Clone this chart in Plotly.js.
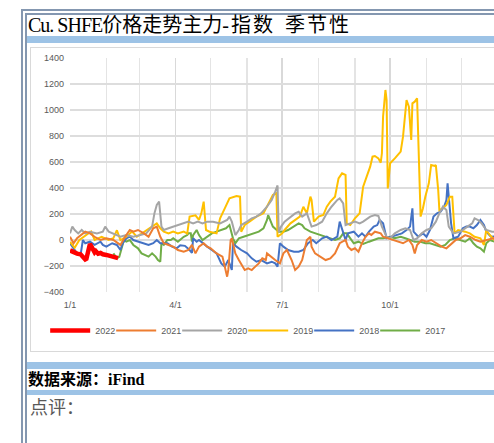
<!DOCTYPE html>
<html><head><meta charset="utf-8">
<script src="https://cdn.plot.ly/plotly-3.0.1.min.js"></script>
<style>
html,body{margin:0;padding:0;background:#fff;width:494px;height:443px;overflow:hidden;}
#page{position:relative;width:494px;height:443px;overflow:hidden;}
.fl{position:absolute;background:#8497B0;}
.band{position:absolute;left:27px;width:480px;background:#9DC3E6;}
#title{position:absolute;left:28px;top:14px;height:22px;line-height:22px;font-family:"Liberation Serif","Noto Sans CJK SC",serif;font-size:20px;color:#000;white-space:nowrap;}
#title span{display:inline-block;}
#chartbox{position:absolute;left:30px;top:47px;width:520px;height:305px;border:1px solid #D9D9D9;box-sizing:border-box;background:#fff;}
#chart{position:absolute;left:30px;top:47px;width:490px;height:315px;}
#src{position:absolute;left:28px;top:371px;height:18px;line-height:18px;font-family:"Liberation Serif","Noto Sans CJK SC",serif;font-weight:bold;font-size:16px;color:#000;white-space:nowrap;}
#cmt{position:absolute;left:30px;top:398px;height:20px;line-height:20px;font-family:"Liberation Serif","Noto Sans CJK SC",serif;font-size:18px;color:#595959;white-space:nowrap;}
</style></head>
<body>
<div id="page">
  <div class="fl" style="left:21px;top:9px;width:480px;height:2px;"></div>
  <div class="fl" style="left:25px;top:13px;width:480px;height:2px;"></div>
  <div class="fl" style="left:21px;top:9px;width:2px;height:440px;"></div>
  <div class="fl" style="left:25px;top:13px;width:2px;height:440px;"></div>
  <div id="title"><span style="letter-spacing:-1px;">Cu. SHFE</span><span>价格走势主力</span><span style="margin-right:2px;">-</span><span style="letter-spacing:2px;">指数</span><span style="margin-left:10px;letter-spacing:2px;">季节性</span></div>
  <div class="band" style="top:36px;height:7px;"></div>
  <div id="chartbox"></div>
  <div id="chart"></div>
  <div class="band" style="top:362px;height:7px;"></div>
  <div id="src">数据来源：iFind</div>
  <div class="band" style="top:390px;height:5px;"></div>
  <div id="cmt">点评：</div>
</div>
<script>
// x = day of year (0 = 1/1), y = value
const tickDays = [0, 90, 181, 273];
const tickLabels = ['1/1', '4/1', '7/1', '10/1'];
const monthDays = [31, 59, 120, 151, 212, 243, 304, 334];
const seriesNames = ['2022', '2021', '2020', '2019', '2018', '2017'];
const seriesColors = ['#FF0000', '#ED7D31', '#A5A5A5', '#FFC000', '#4472C4', '#70AD47'];

const s2022 = [[0,-80],[3,-95],[6,-105],[9,-110],[11,-135],[13,-150],[14,-145],[15,-90],[16,-50],[17,-30],[18,-45],[20,-70],[21,-95],[22,-85],[24,-105],[26,-100],[28,-110],[31,-115],[34,-125],[37,-130],[39,-135],[41,-140]];

const s2021 = [[0,25],[3,-25],[6,13],[9,38],[13,64],[17,51],[21,25],[26,0],[31,13],[37,0],[43,-38],[47,25],[51,77],[54,64],[58,77],[63,51],[67,25],[71,90],[74,103],[77,25],[80,-25],[84,-38],[88,-51],[92,-77],[97,-90],[101,-77],[104,-38],[107,-103],[110,-51],[114,-25],[117,-51],[120,-64],[122,-77],[125,-103],[130,-128],[132,-205],[134,-282],[135,-230],[137,0],[138,13],[141,-103],[144,-154],[147,-205],[149,-231],[152,-218],[155,-231],[158,-205],[161,-180],[164,-141],[167,-154],[168,-103],[171,-128],[175,-154],[179,-180],[182,-103],[185,-77],[189,-154],[192,-231],[195,-205],[198,-154],[202,0],[205,25],[206,-51],[209,-103],[213,-128],[218,-154],[222,-141],[226,-103],[230,-25],[235,0],[237,-51],[240,-77],[243,-64],[246,-90],[249,-25],[252,25],[255,51],[257,38],[260,64],[265,51],[267,25],[271,13],[276,0],[280,-13],[284,-25],[289,0],[292,-38],[294,-103],[296,-38],[300,0],[304,-13],[308,0],[312,-25],[317,-51],[321,-64],[326,-25],[329,0],[333,13],[337,38],[341,25],[346,0],[350,-13],[356,0],[361,13],[365,10]];

const s2020 = [[0,51],[2,103],[4,77],[7,51],[10,77],[13,51],[17,64],[23,51],[28,64],[30,103],[33,64],[37,51],[43,26],[48,38],[54,26],[60,38],[65,51],[70,103],[72,205],[74,270],[76,295],[78,103],[80,77],[84,90],[88,103],[92,115],[97,128],[101,141],[105,128],[109,141],[113,128],[117,141],[122,141],[128,128],[134,154],[136,180],[138,141],[141,38],[144,77],[146,115],[151,141],[155,167],[159,180],[163,205],[168,256],[172,308],[175,372],[177,420],[178,60],[180,103],[183,141],[188,180],[192,205],[195,218],[198,180],[202,205],[206,103],[210,115],[215,141],[219,205],[223,256],[228,308],[230,320],[233,282],[235,115],[239,128],[243,141],[247,128],[250,141],[256,180],[260,192],[263,185],[266,103],[270,25],[273,13],[277,51],[282,77],[286,90],[290,77],[293,0],[296,13],[300,51],[304,77],[308,90],[312,141],[315,205],[318,256],[321,230],[323,103],[327,51],[333,64],[339,103],[343,128],[345,167],[348,154],[351,128],[355,77],[360,64],[365,60]];

const s2019 = [[0,-15],[4,-60],[8,0],[14,40],[18,65],[21,0],[27,25],[33,0],[37,15],[40,75],[43,0],[48,25],[53,65],[57,25],[61,50],[65,75],[70,100],[74,128],[77,90],[80,65],[84,50],[88,65],[92,50],[97,65],[100,50],[102,180],[107,190],[110,155],[112,205],[114,295],[116,77],[119,64],[125,51],[128,167],[132,243],[136,320],[142,338],[145,333],[146,64],[149,115],[153,141],[159,180],[165,205],[169,270],[173,346],[176,360],[177,25],[181,51],[183,77],[188,128],[192,154],[196,180],[199,256],[202,205],[205,333],[206,308],[208,141],[212,180],[216,192],[219,256],[222,295],[226,333],[229,474],[232,513],[235,500],[236,128],[239,115],[243,167],[247,205],[250,410],[253,487],[256,564],[258,641],[260,646],[263,628],[265,595],[266,667],[267,950],[269,1154],[270,1077],[271,397],[273,590],[277,628],[282,680],[284,795],[286,987],[287,1077],[289,1026],[290,897],[291,770],[292,1051],[294,1064],[296,1090],[298,500],[299,180],[301,244],[303,333],[306,436],[308,577],[311,570],[312,577],[314,385],[315,230],[318,244],[321,270],[324,333],[326,333],[328,51],[331,77],[337,64],[341,51],[345,25],[350,13],[353,-38],[355,77],[358,38],[362,0],[365,5]];

const s2018 = [[0,-25],[3,-64],[6,-103],[9,-115],[11,0],[13,-25],[17,-13],[21,-38],[26,-13],[28,-38],[31,-51],[36,-25],[40,-38],[43,-77],[45,-25],[48,13],[51,26],[54,0],[58,-13],[63,-25],[67,-38],[71,-25],[74,0],[77,-25],[83,-25],[87,-51],[91,-64],[94,-40],[98,-45],[102,-77],[104,-100],[105,13],[108,-13],[110,0],[113,-25],[117,-51],[121,-77],[125,-103],[129,-180],[132,-205],[135,-154],[138,-231],[139,-25],[142,-51],[146,-77],[151,-103],[155,-141],[159,-167],[163,-154],[168,-180],[172,-167],[175,-180],[177,-205],[179,-25],[182,-51],[186,-77],[191,-90],[195,-90],[199,-77],[203,-25],[207,0],[210,-25],[215,13],[219,26],[223,0],[228,26],[230,141],[232,77],[235,0],[237,51],[242,64],[246,26],[249,51],[252,26],[255,64],[259,103],[262,115],[264,154],[267,128],[270,13],[274,26],[279,38],[283,51],[287,77],[290,103],[292,244],[293,64],[297,26],[301,51],[304,25],[307,77],[310,180],[313,205],[316,218],[319,256],[321,308],[322,436],[323,333],[325,128],[327,13],[331,26],[335,90],[338,103],[341,103],[344,90],[347,115],[350,154],[353,115],[355,64],[359,25],[362,25],[365,30]];

const s2017 = [[37,-103],[40,-141],[42,-130],[44,-60],[46,0],[48,-13],[51,0],[54,-38],[58,-64],[61,-103],[64,-115],[67,-128],[70,-103],[73,-128],[75,-154],[77,-167],[78,-25],[80,-38],[83,0],[86,0],[88,13],[92,-13],[97,25],[100,38],[101,51],[103,51],[104,-13],[105,38],[108,77],[110,38],[113,0],[117,25],[121,51],[125,64],[129,77],[133,90],[136,115],[139,13],[141,-25],[144,13],[148,25],[152,38],[156,51],[161,64],[165,90],[168,154],[169,192],[171,141],[173,103],[178,64],[182,64],[186,77],[191,103],[195,128],[198,115],[200,90],[205,64],[209,51],[213,38],[218,25],[222,13],[226,0],[230,13],[233,51],[236,51],[239,13],[242,-25],[246,-13],[250,-31],[255,-13],[259,0],[263,13],[267,13],[273,25],[277,13],[282,25],[286,13],[290,0],[294,-13],[299,-13],[303,-25],[307,-25],[311,-38],[316,-51],[320,-38],[324,0],[328,13],[333,0],[337,-13],[341,13],[344,-25],[347,-51],[350,-64],[353,-90],[355,-25],[358,0],[362,-13],[365,-10]];

const allSeries = [s2022, s2021, s2020, s2019, s2018, s2017];
const widths = [4.5, 2, 2, 2, 2, 2];

// draw older years first so 2022 is on top, legend keeps 2022 first
const traces = allSeries.map((s, i) => ({
  type: 'scatter', mode: 'lines', name: seriesNames[i],
  x: s.map(p => p[0]), y: s.map(p => p[1]),
  line: {color: seriesColors[i], width: widths[i]},
  legendrank: i + 1
})).reverse();
// blank trailing legend slot so the last label is not clipped
traces.push({type: 'scatter', mode: 'lines', name: ' ', x: [null], y: [null],
  line: {color: 'rgba(0,0,0,0)', width: 0}, legendrank: 99, hoverinfo: 'skip'});

const tf = {family: 'Liberation Sans, Arial, sans-serif', size: 9, color: '#595959'};
const layout = {
  width: 490, height: 315,
  margin: {l: 40, r: 22, t: 11, b: 70},
  paper_bgcolor: 'rgba(0,0,0,0)', plot_bgcolor: '#fff',
  showlegend: true,
  xaxis: {
    range: [0, 365], tickmode: 'array', tickvals: tickDays, ticktext: tickLabels,
    showgrid: true, gridcolor: '#D9D9D9', gridwidth: 1.6, zeroline: false, showline: false,
    ticks: '', tickfont: tf, ticklabelstandoff: 6,
    minor: {tickmode: 'array', tickvals: monthDays, showgrid: true, gridcolor: '#E4E4E4', gridwidth: 1.3, ticks: ''}
  },
  yaxis: {
    range: [-400, 1400], tick0: 0, dtick: 200, showgrid: true, gridcolor: '#DDDDDD', gridwidth: 1.3,
    zeroline: false, showline: false, ticks: '', tickfont: tf, ticklabelstandoff: 5
  },
  legend: {
    orientation: 'h', x: -0.058, y: -0.165, xanchor: 'left', yanchor: 'middle',
    font: tf, bgcolor: 'rgba(0,0,0,0)', traceorder: 'normal',
    itemwidth: 40, entrywidth: 11, entrywidthmode: 'pixels'
  }
};
Plotly.newPlot('chart', traces, layout, {staticPlot: true, displayModeBar: false});
</script>
</body></html>
